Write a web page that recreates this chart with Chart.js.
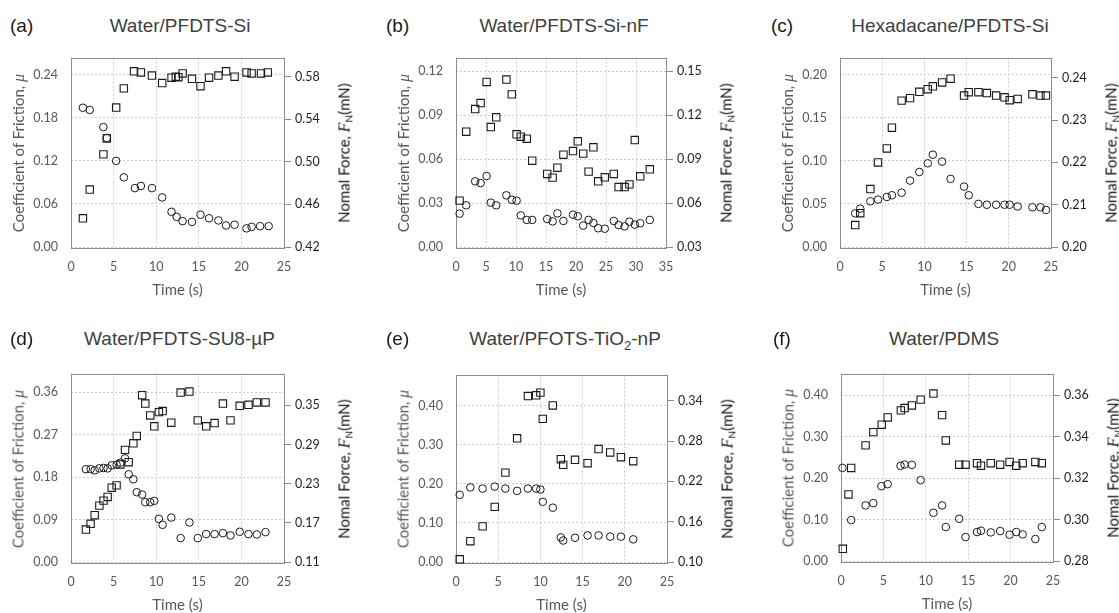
<!DOCTYPE html>
<html>
<head>
<meta charset="utf-8">
<script src="https://cdn.jsdelivr.net/npm/chart.js@4.4.1/dist/chart.umd.min.js"></script>
<style>
  html, body { margin: 0; padding: 0; background: #fff; width: 1119px; height: 613px; overflow: hidden; }
  canvas { position: absolute; }
  .lbl { position: absolute; white-space: nowrap; }
  .letter { font: 19px "Liberation Sans", Arial, sans-serif; color: #1a1a1a; transform: translateY(-50%); }
  .title { font: 19px "Liberation Sans", Arial, sans-serif; color: #404040; transform: translate(-50%, -50%); }
  .ytitle { font: 15px Lato, sans-serif; transform: translate(-50%, -50%) rotate(-90deg); }
  .ytitle i { font-family: "Liberation Serif", serif; font-size: 16px; }
  .sub { font-size: 10px; position: relative; top: 3px; }
  .tsub { font-size: 13px; position: relative; top: 5px; }
</style>
</head>
<body>
<script>
// (a) Water/PFDTS-Si
const aMuTime = [1.4, 2.2, 3.8, 4.2, 5.3, 6.2, 7.5, 8.2, 9.5, 10.7, 11.8, 12.4, 13.1, 14.2, 15.2, 16.2, 17.3, 18.2, 19.2, 20.6, 21.2, 22.2, 23.2]
const aMu = [0.194, 0.191, 0.167, 0.152, 0.120, 0.097, 0.082, 0.085, 0.082, 0.069, 0.049, 0.042, 0.036, 0.035, 0.045, 0.040, 0.037, 0.030, 0.031, 0.026, 0.028, 0.029, 0.029]
const aFnTime = [1.4, 2.2, 3.8, 4.2, 5.3, 6.2, 7.4, 8.2, 9.5, 10.7, 11.8, 12.3, 12.6, 13.1, 14.2, 15.2, 16.2, 17.3, 18.2, 19.2, 20.6, 21.2, 22.3, 23.1]
const aFn = [0.447, 0.474, 0.507, 0.522, 0.551, 0.569, 0.585, 0.584, 0.581, 0.574, 0.579, 0.580, 0.5795, 0.583, 0.578, 0.571, 0.579, 0.581, 0.585, 0.580, 0.584, 0.583, 0.583, 0.584]

// (b) Water/PFDTS-Si-nF
const bTime = [0.6, 1.7, 3.2, 4.1, 5.1, 5.8, 6.7, 8.4, 9.3, 10.1, 10.8, 11.8, 12.7, 15.2, 16.1, 16.9, 17.9, 19.5, 20.3, 21.2, 22.1, 22.9, 23.7, 24.8, 26.3, 27.1, 28.1, 28.9, 29.8, 30.7, 32.3]
const bMu = [0.0228, 0.0285, 0.0449, 0.0437, 0.0485, 0.0303, 0.0285, 0.0353, 0.0323, 0.0317, 0.0216, 0.0185, 0.0185, 0.0191, 0.0175, 0.0230, 0.0178, 0.0221, 0.0210, 0.0146, 0.0185, 0.0164, 0.0128, 0.0125, 0.0178, 0.0150, 0.0141, 0.0173, 0.0153, 0.0162, 0.0185]
const bFn = [0.0617, 0.1088, 0.1243, 0.1284, 0.1428, 0.1120, 0.1186, 0.1444, 0.1343, 0.1070, 0.1054, 0.1040, 0.0890, 0.0799, 0.0774, 0.0842, 0.0931, 0.0956, 0.1022, 0.0938, 0.0815, 0.0981, 0.0749, 0.0776, 0.0799, 0.0710, 0.0710, 0.0728, 0.1031, 0.0783, 0.0831]

// (c) Hexadacane/PFDTS-Si
const cTime = [1.8, 2.4, 3.6, 4.5, 5.55, 6.15, 7.3, 8.3, 9.4, 10.4, 11.0, 12.1, 13.1, 14.7, 15.25, 16.4, 17.4, 18.5, 19.5, 20.1, 21.05, 22.8, 23.75, 24.4]
const cMu = [0.039, 0.0445, 0.053, 0.055, 0.058, 0.060, 0.063, 0.077, 0.087, 0.097, 0.107, 0.099, 0.079, 0.070, 0.060, 0.050, 0.049, 0.049, 0.049, 0.049, 0.047, 0.046, 0.046, 0.043]
const cFn = [0.2052, 0.2080, 0.2137, 0.2200, 0.2233, 0.2282, 0.2346, 0.2352, 0.2367, 0.2373, 0.2380, 0.2389, 0.2398, 0.2358, 0.2366, 0.2366, 0.2364, 0.2358, 0.2354, 0.2347, 0.2350, 0.2361, 0.2358, 0.2358]

// (d) Water/PFDTS-SU8-µP
const dTime = [1.75, 2.3, 2.78, 3.33, 3.82, 4.3, 4.78, 5.35, 5.8, 6.34, 6.77, 7.32, 7.72, 8.35, 8.72, 9.3, 9.78, 10.31, 10.75, 11.77, 12.87, 13.9, 14.88, 15.87, 16.85, 17.83, 18.72, 19.8, 20.83, 21.81, 22.83]
const dMu = [0.197, 0.197, 0.1945, 0.1987, 0.1995, 0.1987, 0.2051, 0.2065, 0.2107, 0.2199, 0.1861, 0.1755, 0.148, 0.1431, 0.1269, 0.1269, 0.1297, 0.0916, 0.0789, 0.0944, 0.0507, 0.0839, 0.0507, 0.0592, 0.0592, 0.0613, 0.0564, 0.0641, 0.0592, 0.0585, 0.0634]
const dFn = [0.1598, 0.1685, 0.1817, 0.1964, 0.2041, 0.2097, 0.2239, 0.2275, 0.2595, 0.2819, 0.263, 0.292, 0.3032, 0.3658, 0.353, 0.3347, 0.318, 0.3398, 0.3414, 0.3236, 0.3698, 0.3713, 0.3271, 0.318, 0.3231, 0.353, 0.3271, 0.3495, 0.351, 0.3546, 0.3546]

// (e) Water/PFOTS-TiO2-nP
const eTime = [0.44, 1.7, 3.15, 4.59, 5.85, 7.24, 8.52, 9.5, 10.0, 10.28, 11.47, 12.42, 12.7, 14.1, 15.59, 16.89, 18.27, 19.54, 21.0]
const eMu = [0.172, 0.191, 0.188, 0.193, 0.188, 0.182, 0.188, 0.188, 0.1855, 0.154, 0.139, 0.063, 0.055, 0.062, 0.068, 0.068, 0.065, 0.065, 0.058]
const eFn = [0.104, 0.131, 0.153, 0.182, 0.233, 0.284, 0.347, 0.348, 0.352, 0.313, 0.333, 0.253, 0.2445, 0.252, 0.247, 0.268, 0.263, 0.256, 0.250]

// (f) Water/PDMS
const fMuTime = [0.17, 1.2, 2.9, 3.81, 4.76, 5.51, 7.02, 7.5, 8.36, 9.39, 10.9, 11.92, 12.36, 13.94, 14.69, 16.04, 16.51, 17.66, 18.77, 19.88, 20.67, 21.42, 22.92, 23.68]
const fMu = [0.2245, 0.0986, 0.1339, 0.1395, 0.1804, 0.1852, 0.2294, 0.2326, 0.2318, 0.1949, 0.1163, 0.1339, 0.0818, 0.1018, 0.0577, 0.0698, 0.073, 0.069, 0.0722, 0.0634, 0.0698, 0.0642, 0.0529, 0.0818]
const fFnTime = [0.21, 0.88, 1.2, 2.9, 3.81, 4.8, 5.51, 7.06, 7.5, 8.36, 9.39, 10.9, 11.92, 12.36, 13.94, 14.69, 16.04, 16.51, 17.66, 18.77, 19.88, 20.67, 21.42, 22.92, 23.68]
const fFn = [0.2859, 0.3121, 0.3249, 0.3358, 0.3422, 0.3458, 0.3493, 0.3527, 0.3538, 0.3551, 0.3579, 0.3608, 0.3504, 0.3382, 0.3265, 0.3265, 0.3272, 0.326, 0.3272, 0.3265, 0.3278, 0.326, 0.3272, 0.3278, 0.3272]

// tick labels
const xTicks25 = [0, 5, 10, 15, 20, 25]
const xTicks35 = [0, 5, 10, 15, 20, 25, 30, 35]
const aMuTicks = [0, 0.06, 0.12, 0.18, 0.24]
const aFnTicks = [0.42, 0.46, 0.50, 0.54, 0.58]
const bMuTicks = [0, 0.03, 0.06, 0.09, 0.12]
const bFnTicks = [0.03, 0.06, 0.09, 0.12, 0.15]
const cMuTicks = [0, 0.05, 0.10, 0.15, 0.20]
const cFnTicks = [0.20, 0.21, 0.22, 0.23, 0.24]
const dMuTicks = [0, 0.09, 0.18, 0.27, 0.36]
const dFnTicks = [0.11, 0.17, 0.23, 0.29, 0.35]
const eMuTicks = [0, 0.10, 0.20, 0.30, 0.40]
const eFnTicks = [0.10, 0.16, 0.22, 0.28, 0.34]
const fMuTicks = [0, 0.10, 0.20, 0.30, 0.40]
const fFnTicks = [0.28, 0.30, 0.32, 0.34, 0.36]

const GRID = "#cdcdcd"
const FRAME = "#8c8c8c"
const GREY = "#595959"
const MARK = "#1a1a1a"
const TICK_FONT = { family: "Lato", size: 12.5 }
const AXIS_FONT = { family: "Lato", size: 15 }

const panels = [
  { letter: "(a)", title: "Water/PFDTS-Si", L: 71, R: 284, T: 57, B: 247, letterX: 10, titleX: 180, titleY: 25.5,
    xMax: 25, xTicks: xTicks25, muTime: aMuTime, mu: aMu, fnTime: aFnTime, fn: aFn,
    muRange: [0, 0.264], fnRange: [0.42, 0.598], muTicks: aMuTicks, fnTicks: aFnTicks },
  { letter: "(b)", title: "Water/PFDTS-Si-nF", L: 456, R: 666, T: 57, B: 247, letterX: 386, titleX: 564, titleY: 25.5,
    xMax: 35, xTicks: xTicks35, muTime: bTime, mu: bMu, fnTime: bTime, fn: bFn,
    muRange: [0, 0.1295], fnRange: [0.03, 0.1595], muTicks: bMuTicks, fnTicks: bFnTicks },
  { letter: "(c)", title: "Hexadacane/PFDTS-Si", L: 840, R: 1051, T: 57, B: 247, letterX: 771, titleX: 950, titleY: 25.5,
    xMax: 25, xTicks: xTicks25, muTime: cTime, mu: cMu, fnTime: cTime, fn: cFn,
    muRange: [0, 0.2197], fnRange: [0.20, 0.2448], muTicks: cMuTicks, fnTicks: cFnTicks },
  { letter: "(d)", title: "Water/PFDTS-SU8-µP", L: 71, R: 284, T: 373, B: 562, letterX: 10, titleX: 179.5, titleY: 338.5,
    xMax: 25, xTicks: xTicks25, muTime: dTime, mu: dMu, fnTime: dTime, fn: dFn,
    muRange: [0, 0.40], fnRange: [0.11, 0.399], muTicks: dMuTicks, fnTicks: dFnTicks },
  { letter: "(e)", title: "Water/PFOTS-TiO<span class=\"tsub\">2</span>-nP", L: 456, R: 667, T: 374, B: 562, letterX: 386, titleX: 565, titleY: 338.5,
    xMax: 25, xTicks: xTicks25, muTime: eTime, mu: eMu, fnTime: eTime, fn: eFn,
    muRange: [0, 0.48], fnRange: [0.10, 0.379], muTicks: eMuTicks, fnTicks: eFnTicks },
  { letter: "(f)", title: "Water/PDMS", L: 841, R: 1053, T: 373, B: 561, letterX: 773, titleX: 944, titleY: 338.5,
    xMax: 25, xTicks: xTicks25, muTime: fMuTime, mu: fMu, fnTime: fFnTime, fn: fFn,
    muRange: [0, 0.452], fnRange: [0.28, 0.3705], muTicks: fMuTicks, fnTicks: fFnTicks },
]

// grey box round the plot area
const framePlugin = {
  id: "frame",
  beforeDatasetsDraw(chart) {
    const { ctx, chartArea: a } = chart
    ctx.save()
    ctx.strokeStyle = FRAME
    ctx.lineWidth = 1
    ctx.strokeRect(Math.round(a.left) + 0.5, Math.round(a.top) + 0.5, Math.round(a.right - a.left), Math.round(a.bottom - a.top))
    ctx.restore()
  },
}

function addLabel(cls, html, x, y, color) {
  const el = document.createElement("div")
  el.className = "lbl " + cls
  el.innerHTML = html
  el.style.left = x + "px"
  el.style.top = y + "px"
  if (color) el.style.color = color
  document.body.appendChild(el)
}

function toPoints(xs, ys) {
  return xs.map((x, i) => ({ x: x, y: ys[i] }))
}

function makePanel(p) {
  const padTop = 20, leftW = 66, rightW = 70, bottomH = 52
  const w = p.R - p.L + leftW + rightW
  const h = p.B - p.T + padTop + bottomH
  const canvas = document.createElement("canvas")
  canvas.width = w
  canvas.height = h
  canvas.style.left = (p.L - leftW) + "px"
  canvas.style.top = (p.T - padTop) + "px"
  canvas.style.width = w + "px"
  canvas.style.height = h + "px"
  document.body.appendChild(canvas)

  new Chart(canvas, {
    type: "scatter",
    data: {
      datasets: [
        {
          data: toPoints(p.muTime, p.mu),
          yAxisID: "y",
          pointStyle: "circle",
          pointRadius: 3.8,
          borderColor: MARK,
          borderWidth: 1,
          backgroundColor: "rgba(0,0,0,0)",
          clip: false,
        },
        {
          data: toPoints(p.fnTime, p.fn),
          yAxisID: "y1",
          pointStyle: "rect",
          pointRadius: 5.2,
          borderColor: MARK,
          borderWidth: 1.1,
          backgroundColor: "rgba(0,0,0,0)",
          clip: false,
        },
      ],
    },
    options: {
      responsive: false,
      animation: false,
      devicePixelRatio: 1,
      layout: { padding: { top: padTop, left: 0, right: 0, bottom: 0 } },
      plugins: { legend: { display: false }, tooltip: { enabled: false } },
      scales: {
        x: {
          type: "linear",
          min: 0,
          max: p.xMax,
          afterBuildTicks: (s) => { s.ticks = p.xTicks.map((v) => ({ value: v })) },
          afterFit: (s) => { s.height = bottomH },
          grid: { color: GRID, drawTicks: false },
          border: { display: false, dash: [2, 2] },
          ticks: { padding: 12, color: GREY, font: TICK_FONT, maxRotation: 0 },
          title: { display: true, text: "Time (s)", color: GREY, font: AXIS_FONT, padding: { top: 0, bottom: 0 } },
        },
        y: {
          position: "left",
          min: p.muRange[0],
          max: p.muRange[1],
          afterBuildTicks: (s) => { s.ticks = p.muTicks.map((v) => ({ value: v })) },
          afterFit: (s) => { s.width = leftW },
          grid: { color: GRID, drawTicks: false },
          border: { display: false, dash: [2, 2] },
          ticks: { padding: 13, color: GREY, font: TICK_FONT, callback: (v) => v.toFixed(2) },
        },
        y1: {
          position: "right",
          min: p.fnRange[0],
          max: p.fnRange[1],
          afterBuildTicks: (s) => { s.ticks = p.fnTicks.map((v) => ({ value: v })) },
          afterFit: (s) => { s.width = rightW },
          grid: { drawOnChartArea: false, drawTicks: true, tickLength: 7, color: FRAME },
          border: { display: false },
          ticks: { padding: 4, color: "#1f1f1f", font: TICK_FONT, callback: (v) => v.toFixed(2) },
        },
      },
    },
    plugins: [framePlugin],
  })

  // panel letter, title and the two rotated axis titles
  addLabel("letter", p.letter, p.letterX, p.titleY)
  addLabel("title", p.title, p.titleX, p.titleY)
  const midY = (p.T + p.B) / 2
  addLabel("ytitle", "Coefficient of Friction, <i>\u03bc</i>", p.L - 53, midY + 1, GREY)
  addLabel("ytitle", "Nomal Force, <i>F</i><span class=\"sub\">N</span>(mN)", p.R + 60, midY + 1, "#111")
}

panels.forEach(makePanel)
</script>
</body>
</html>
